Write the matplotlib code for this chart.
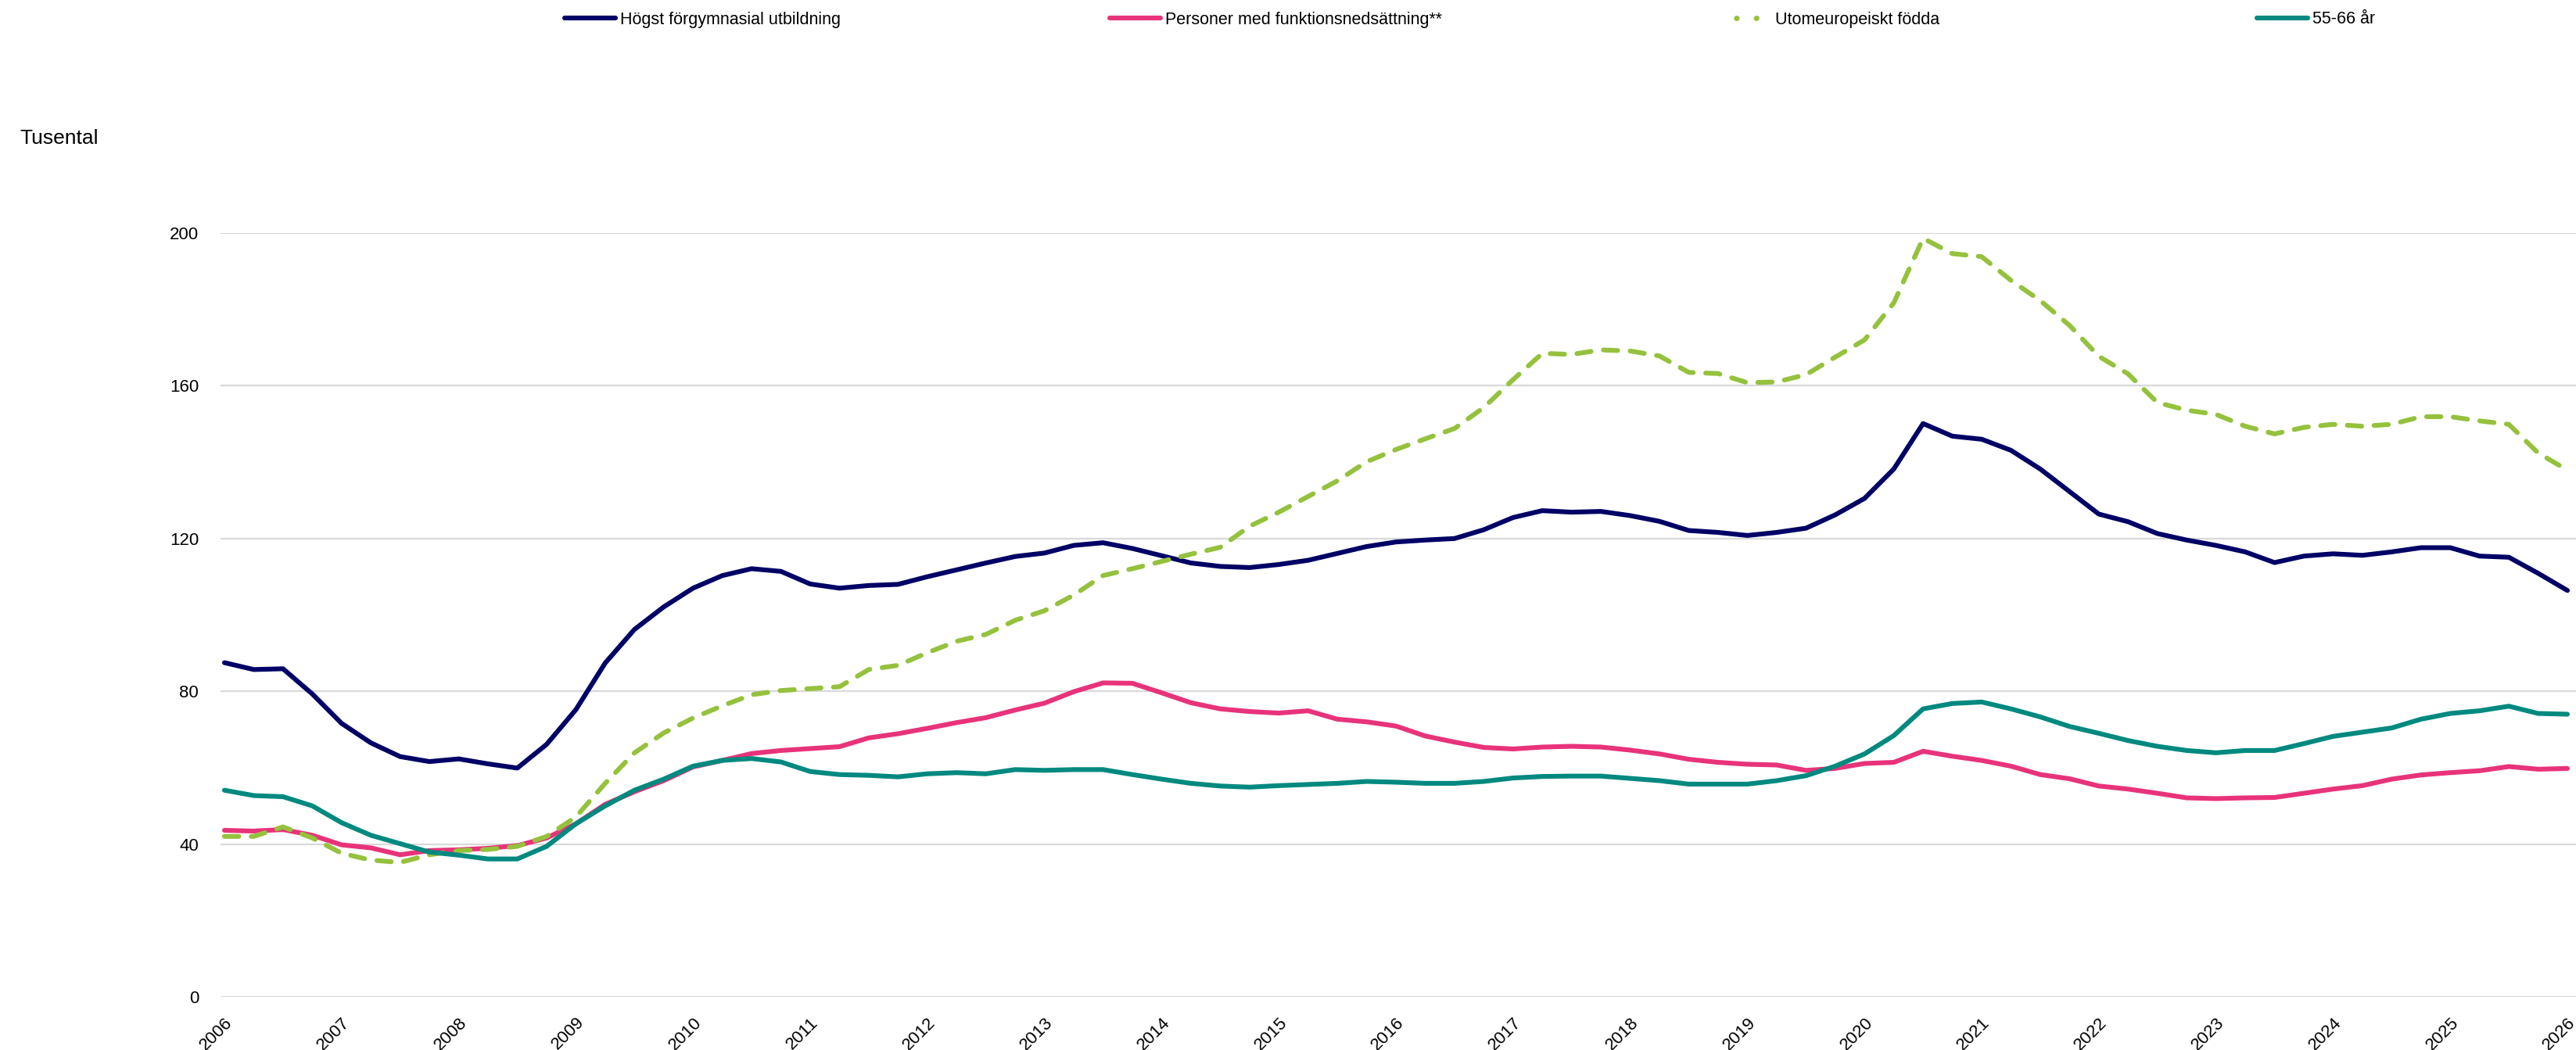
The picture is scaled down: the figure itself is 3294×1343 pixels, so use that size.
import matplotlib
matplotlib.use("Agg")
import matplotlib.pyplot as plt
from matplotlib.lines import Line2D
import numpy as np

plt.rcParams['font.family'] = ['Liberation Sans', 'DejaVu Sans']

# Quarterly observations, 2006 Q1 .. 2026 Q1 (thousands)
start_year = 2006
years = list(range(2006, 2027))

hogst_forgymnasial = [
    87.5, 85.7, 85.9, 79.3,
    71.6, 66.5, 62.9, 61.6,
    62.3, 61.0, 59.9, 66.1,
    75.2, 87.4, 96.2, 102.1,
    107.0, 110.3, 112.1, 111.4,
    108.1, 107.0, 107.7, 108.0,
    110.0, 111.8, 113.6, 115.3,
    116.2, 118.2, 118.9, 117.4,
    115.5, 113.6, 112.7, 112.4,
    113.2, 114.3, 116.1, 117.9,
    119.1, 119.6, 120.0, 122.3,
    125.5, 127.3, 126.9, 127.1,
    126.0, 124.5, 122.1, 121.6,
    120.8, 121.6, 122.7, 126.2,
    130.5, 138.2, 150.1, 146.8,
    146.0, 143.1, 138.2, 132.3,
    126.4, 124.4, 121.3, 119.6,
    118.2, 116.5, 113.7, 115.4,
    116.0, 115.6, 116.5, 117.6,
    117.6, 115.4, 115.1, 110.9,
    106.4,
]

funktionsnedsattning = [
    43.6, 43.4, 43.8, 42.3,
    39.8, 39.0, 37.2, 38.3,
    38.5, 38.9, 39.6, 41.6,
    45.3, 50.4, 53.7, 56.6,
    60.2, 61.9, 63.7, 64.5,
    65.0, 65.5, 67.8, 68.9,
    70.3, 71.8, 73.1, 75.1,
    76.9, 79.9, 82.2, 82.1,
    79.6, 77.0, 75.4, 74.7,
    74.3, 74.9, 72.7, 72.0,
    70.9, 68.3, 66.7, 65.3,
    64.9, 65.4, 65.6, 65.4,
    64.6, 63.6, 62.2, 61.4,
    60.9, 60.7, 59.3, 59.8,
    61.1, 61.4, 64.3, 63.0,
    61.9, 60.4, 58.2, 57.1,
    55.2, 54.4, 53.3, 52.1,
    51.9, 52.1, 52.2, 53.3,
    54.4, 55.3, 57.0, 58.1,
    58.7, 59.2, 60.3, 59.6,
    59.8,
]

utomeuropeiskt_fodda = [
    42.0, 42.0, 44.5, 41.6,
    37.6, 35.8, 35.2, 37.2,
    38.3, 38.6, 39.4, 42.0,
    47.1, 55.9, 63.9, 69.1,
    73.0, 76.2, 79.1, 80.2,
    80.7, 81.2, 85.7, 86.8,
    90.1, 93.1, 94.9, 98.6,
    101.1, 105.2, 110.3, 112.1,
    114.0, 115.9, 117.7, 123.2,
    126.9, 131.0, 135.1, 140.1,
    143.3, 146.1, 148.8, 154.3,
    161.6, 168.5, 168.2, 169.4,
    169.1, 167.8, 163.5, 163.2,
    160.8, 161.0, 162.9, 167.5,
    172.0, 181.7, 198.6, 194.6,
    193.8, 187.6, 182.3, 175.8,
    167.7, 163.1, 155.6, 153.6,
    152.5, 149.4, 147.4, 149.1,
    149.9, 149.4, 149.9, 151.9,
    151.9, 150.8, 149.9, 142.4,
    137.9,
]

alder_55_66 = [
    54.1, 52.7, 52.4, 50.0,
    45.6, 42.3, 40.1, 37.9,
    37.1, 36.1, 36.1, 39.4,
    45.3, 50.0, 54.1, 57.0,
    60.4, 61.9, 62.4, 61.5,
    59.0, 58.2, 58.0, 57.6,
    58.4, 58.7, 58.4, 59.5,
    59.3, 59.5, 59.5, 58.2,
    57.0, 55.9, 55.2, 54.9,
    55.3, 55.6, 55.9, 56.4,
    56.2, 55.9, 55.9, 56.4,
    57.3, 57.7, 57.8, 57.8,
    57.2, 56.6, 55.7, 55.7,
    55.7, 56.6, 57.9, 60.4,
    63.6, 68.4, 75.4, 76.8,
    77.2, 75.4, 73.3, 70.8,
    69.0, 67.1, 65.6, 64.5,
    63.9, 64.5, 64.5, 66.3,
    68.2, 69.3, 70.4, 72.7,
    74.2, 74.9, 76.1, 74.2,
    74.0,
]

labels = ["Högst förgymnasial utbildning", "Personer med funktionsnedsättning**",
          "Utomeuropeiskt födda", "55-66 år"]
colors = ["#000066", "#e8337a", "#95c13d", "#00897f"]

t = start_year + np.arange(len(hogst_forgymnasial)) * 0.25

W, H = 3294, 1343
fig = plt.figure(figsize=(W / 100, H / 100), dpi=100)
ax = fig.add_axes([282 / W, 1 - 1275 / H, 1 - 282 / W, (1275 - 298) / H])

lw = 4.4
ax.plot(t, hogst_forgymnasial, color=colors[0], lw=lw, solid_capstyle='round',
        solid_joinstyle='round', clip_on=False, zorder=3)
ax.plot(t, funktionsnedsattning, color=colors[1], lw=lw, solid_capstyle='round',
        solid_joinstyle='round', clip_on=False, zorder=3)
ax.plot(t, utomeuropeiskt_fodda, color=colors[2], lw=lw, linestyle=(0, (3.0, 2.6)),
        dash_capstyle='round', dash_joinstyle='round', clip_on=False, zorder=3)
ax.plot(t, alder_55_66, color=colors[3], lw=lw, solid_capstyle='round',
        solid_joinstyle='round', clip_on=False, zorder=3)

ax.set_ylim(0, 200)
ax.set_xlim(2006 + (282 - 287) / 149.8, 2006 + (3294 - 287) / 149.8)
ax.set_yticks([0, 40, 80, 120, 160, 200])
ax.set_xticks(years)
ax.set_xticklabels([str(y) for y in years], rotation=45, ha='right', va='top',
                   rotation_mode='anchor', fontsize=16)
ax.tick_params(axis='x', length=0, pad=16)
ax.tick_params(axis='y', length=0, pad=20, labelsize=16)
ax.grid(axis='y', color='#d9d9d9', lw=1.6)
ax.set_axisbelow(True)
for s in ax.spines.values():
    s.set_visible(False)

fig.text(25 / W, 1 - 177 / H, "Tusental", fontsize=19, ha='left', va='center')

legend_x = [722 / W, 1419 / W, 2199 / W, 2886 / W]
legend_ls = ['-', '-', (0.6, (0.05, 3.6)), '-']
for lab, col, lx, ls in zip(labels, colors, legend_x, legend_ls):
    h = Line2D([], [], color=col, lw=lw + 0.6 if ls != '-' else lw, linestyle=ls,
               solid_capstyle='round', dash_capstyle='round')
    fig.legend(handles=[h], labels=[lab], loc='center left', bbox_to_anchor=(lx, 1 - 25 / H),
               frameon=False, fontsize=15.5, handlelength=3.0, handletextpad=0.3,
               borderaxespad=0, borderpad=0)

fig.savefig("out.png", dpi=100, facecolor='white')
